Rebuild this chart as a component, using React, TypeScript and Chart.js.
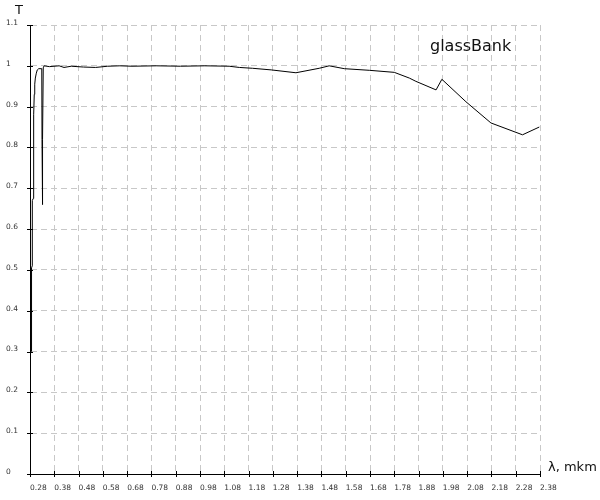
import React, { useEffect, useRef } from "react";
import { Chart, registerables } from "chart.js";

Chart.register(...registerables);

// wavelength, µm
const lambda = [
  0.2855, 0.2865, 0.2858, 0.2866, 0.286, 0.2868, 0.2893, 0.2895, 0.2935, 0.2937,
  0.2955, 0.296, 0.2975, 0.2995, 0.302, 0.306, 0.31, 0.316, 0.3285, 0.3295,
  0.331, 0.3322, 0.3345, 0.338, 0.36, 0.4, 0.42, 0.45, 0.5, 0.55, 0.6, 0.65,
  0.7, 0.8, 0.9, 1.0, 1.1, 1.142, 1.196, 1.273, 1.375, 1.471, 1.512, 1.574,
  1.677, 1.78, 1.842, 1.869, 1.952, 1.976, 2.075, 2.178, 2.308, 2.377,
];
// transmittance
const transmit = [
  0.3, 0.5, 0.32, 0.49, 0.36, 0.505, 0.51, 0.67, 0.675, 0.8,
  0.81, 0.88, 0.93, 0.955, 0.97, 0.982, 0.99, 0.993, 0.993, 0.82,
  0.66, 0.82, 0.995, 1.0, 0.998, 1.0, 0.996, 0.999, 0.997, 0.996, 0.999, 1.0,
  0.999, 1.0, 0.999, 1.0, 0.999, 0.996, 0.994, 0.99, 0.983, 0.994, 1.0, 0.993,
  0.989, 0.984, 0.97, 0.962, 0.941, 0.967, 0.912, 0.86, 0.831, 0.85,
];

const xTicks = [
  0.28, 0.38, 0.48, 0.58, 0.68, 0.78, 0.88, 0.98, 1.08, 1.18, 1.28,
  1.38, 1.48, 1.58, 1.68, 1.78, 1.88, 1.98, 2.08, 2.18, 2.28, 2.38,
];
const yTicks = [0, 0.1, 0.2, 0.3, 0.4, 0.5, 0.6, 0.7, 0.8, 0.9, 1, 1.1];

const yTitle = "T";
const xTitle = "λ, mkm";
const seriesName = "glassBank";

const FONT = "'DejaVu Sans', Verdana, sans-serif";

const decorPlugin = {
  id: "decor",
  afterDraw(chart: any) {
    const ctx = chart.ctx;
    const xs = chart.scales.x;
    const ys = chart.scales.y;
    const area = chart.chartArea;
    ctx.save();
    ctx.strokeStyle = "#000";
    ctx.lineWidth = 1;
    ctx.beginPath();
    for (const v of xTicks) {
      const px = Math.round(xs.getPixelForValue(v)) + 0.5;
      ctx.moveTo(px, area.bottom - 3);
      ctx.lineTo(px, area.bottom + 3);
    }
    for (const v of yTicks) {
      const py = Math.round(ys.getPixelForValue(v)) + 0.5;
      ctx.moveTo(area.left - 3, py);
      ctx.lineTo(area.left + 3, py);
    }
    ctx.stroke();

    ctx.fillStyle = "#111";
    ctx.textBaseline = "middle";
    ctx.font = `13px ${FONT}`;
    ctx.textAlign = "center";
    ctx.fillText(yTitle, 19, 11);
    ctx.textAlign = "left";
    ctx.fillText(xTitle, 548, 468);
    ctx.font = `16px ${FONT}`;
    ctx.textBaseline = "alphabetic";
    ctx.fillText(seriesName, 430, 51);
    ctx.restore();
  },
};

export default function App() {
  const ref = useRef<HTMLCanvasElement>(null);
  useEffect(() => {
    const chart = new Chart(ref.current!, {
      type: "line",
      data: {
        datasets: [
          {
            label: seriesName,
            data: lambda.map((x, i) => ({ x, y: transmit[i] })),
            borderColor: "#000",
            borderWidth: 1,
            pointRadius: 0,
            tension: 0,
            fill: false,
          },
        ],
      },
      options: {
        responsive: false,
        animation: false,
        layout: { padding: { left: 6, top: 25, right: 60, bottom: 0 } },
        plugins: { legend: { display: false }, tooltip: { enabled: false } },
        scales: {
          x: {
            type: "linear",
            min: 0.28,
            max: 2.38,
            afterBuildTicks: (s: any) => {
              s.ticks = xTicks.map((v) => ({ value: v }));
            },
            afterFit: (s: any) => {
              s.height = 26;
            },
            ticks: {
              autoSkip: false,
              maxRotation: 0,
              minRotation: 0,
              align: "start",
              padding: 10,
              color: "#333",
              font: { family: FONT, size: 7.5 },
              callback: (v: any) => Number(v).toFixed(2),
            },
            grid: { color: "#c8c8c8", drawTicks: false, lineWidth: 1 },
            border: { color: "#000", width: 1, dash: [6, 4] },
          },
          y: {
            type: "linear",
            min: 0,
            max: 1.1,
            afterBuildTicks: (s: any) => {
              s.ticks = yTicks.map((v) => ({ value: v }));
            },
            afterFit: (s: any) => {
              s.width = 24;
            },
            ticks: {
              autoSkip: false,
              crossAlign: "far",
              labelOffset: -2,
              padding: 0,
              color: "#333",
              font: { family: FONT, size: 7.5 },
              callback: (v: any) => String(Math.round(Number(v) * 10) / 10),
            },
            grid: { color: "#c8c8c8", drawTicks: false, lineWidth: 1 },
            border: { color: "#000", width: 1, dash: [6, 4] },
          },
        },
      },
      plugins: [decorPlugin],
    });
    return () => chart.destroy();
  }, []);
  return (
    <div
      style={{
        position: "fixed",
        left: 0,
        top: 0,
        width: 600,
        height: 500,
        background: "#fff",
      }}
    >
      <canvas ref={ref} width={600} height={500} style={{ width: 600, height: 500, display: "block" }} />
    </div>
  );
}
